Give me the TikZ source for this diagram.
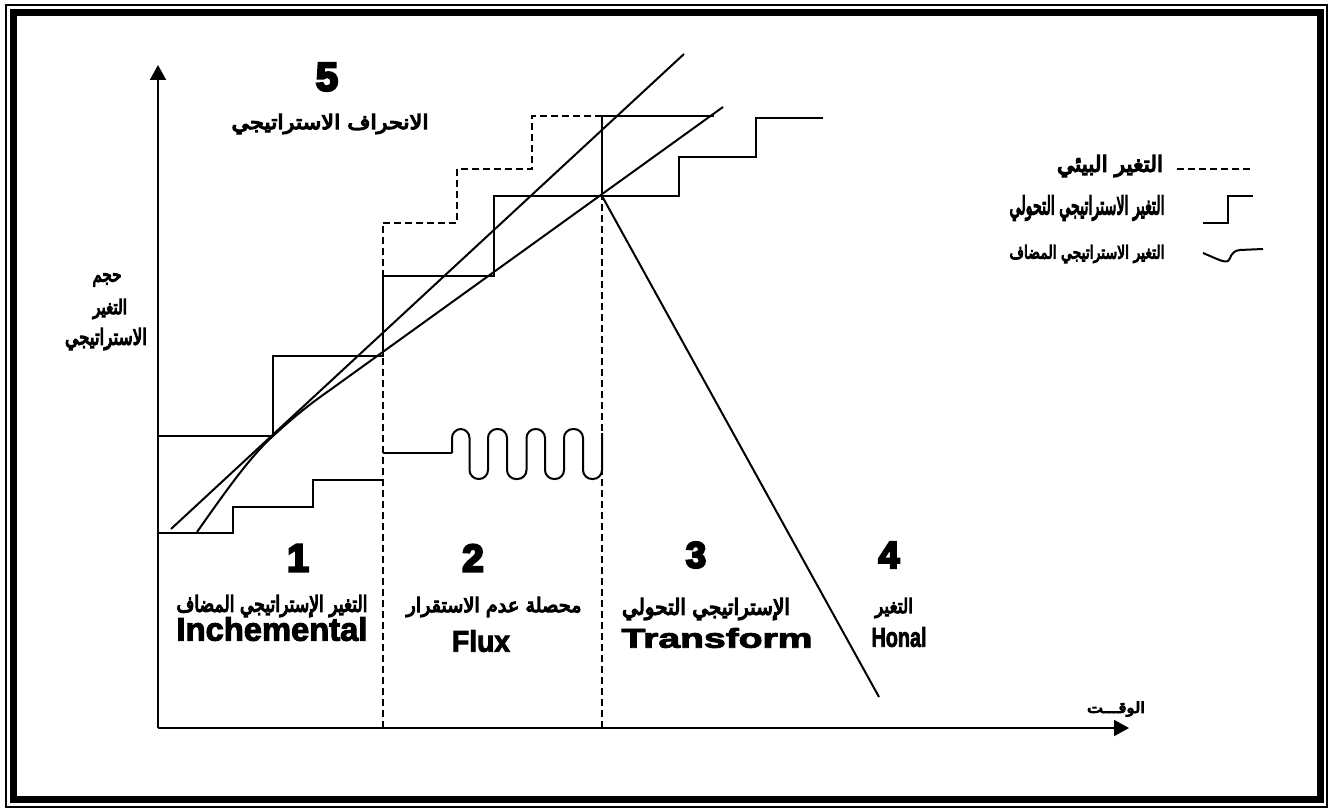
\documentclass[tikz,border=0pt]{standalone}
\usepackage{fontspec}
\usepackage{graphicx}
\usetikzlibrary{arrows.meta}
\TeXXeTstate=1
\newfontfamily\arabicfont[Script=Arabic,FakeBold=6]{DejaVu Sans}
\newfontfamily\latfont[FakeBold=3]{Liberation Sans Bold}
\newfontfamily\digfont[FakeBold=6]{Liberation Sans Bold}
\newdimen\pxu \pxu=0.5pt
\newcommand\arlbl[3]{\resizebox*{#1\pxu}{#2\pxu}{\arabicfont #3}}
\newcommand\latlbl[3]{\resizebox*{#1\pxu}{#2\pxu}{\latfont #3}}
\newcommand\diglbl[2]{\resizebox*{!}{#1\pxu}{\digfont #2}}
\tikzset{
  ln/.style={line width=1pt},
  dsh/.style={line width=1pt, dash pattern=on 3.5pt off 2pt},
  axis/.style={line width=1pt, -{Triangle[length=7.5pt,width=8pt]}},
  lbl/.style={inner sep=0pt, outer sep=0pt, anchor=center}
}
\begin{document}
\begin{tikzpicture}[x=0.5pt, y=-0.5pt]
\useasboundingbox (0,0) rectangle (1337,812);
% frame
\draw[line width=1pt] (6,5) rectangle (1327,807);
\draw[line width=3.5pt] (13.5,12.5) rectangle (1320.5,799);
% axes
\coordinate (O) at (158,728);
\coordinate (Ytip) at (158,65);
\coordinate (Xtip) at (1129,728);
\draw[axis] (O) -- (Ytip);
\draw[axis] (O) -- (Xtip);
% dashed verticals
\coordinate (d1t) at (383,223);
\coordinate (d1b) at (383,728);
\coordinate (J) at (602,196);
\coordinate (d2b) at (602,728);
\draw[dsh] (d1b) -- (d1t);
\draw[dsh] (d2b) -- (J);
% environmental change (dashed steps)
\draw[dsh] (d1t) -- (457,223) -- (457,169) -- (532,169) -- (532,116) -- (602,116);
% transformational steps
\draw[ln] (158,436) -- (273,436) -- (273,356) -- (383,356) -- (383,276) -- (494,276) -- (494,196) -- (679,196) -- (679,157) -- (756,157) -- (756,118) -- (823,118);
\draw[ln] (J) -- (602,116) -- (714,116);
% incremental steps
\draw[ln] (158,533) -- (233,533) -- (233,507) -- (313,507) -- (313,480) -- (383,480);
% flux
\draw[ln] (383,453) -- (452,453);
\draw[ln, rounded corners=4.5pt] (452,453) -- (452,429) -- (469.5,429) -- (469.5,479) -- (488,479) -- (488,429) -- (507,429) -- (507,479) -- (526.5,479) -- (526.5,429) -- (545,429) -- (545,479) -- (564,479) -- (564,429) -- (583,429) -- (583,479) -- (602,479) -- (602,433);
% straight line A
\draw[ln] (171,529) -- (684,54);
% added-change curve that becomes line B
\draw[ln] (197,532) .. controls (228,488) and (250,457) .. (273,436) .. controls (296,415) and (310,404) .. (330,390) -- (723,107);
% line to region 4
\draw[ln] (J) -- (879,697);
% legend
\draw[dsh] (1177,169) -- (1253,169);
\draw[ln] (1203,223) -- (1228,223) -- (1228,196) -- (1253,196);
\draw[ln] (1203,253) .. controls (1215,258) and (1224,263) .. (1228,261) .. controls (1231,259) and (1230,251) .. (1240,250) -- (1263,249);
% texts
\node[lbl] (t5) at (327,77) {\diglbl{28}{5}};
\node[lbl] (t5a) at (330,124) {\arlbl{197}{20}{\beginR الانحراف الاستراتيجي\endR}};
\node[lbl] (ya) at (107,280) {\arlbl{29}{13}{\beginR حجم\endR}};
\node[lbl] (yb) at (110,309) {\arlbl{34}{20}{\beginR التغير\endR}};
\node[lbl] (yc) at (106,339) {\arlbl{82}{22}{\beginR الاستراتيجي\endR}};
\node[lbl] (lg1) at (1110,166) {\arlbl{106}{22}{\beginR التغير البيئي\endR}};
\node[lbl] (lg2) at (1087,208) {\arlbl{155}{25}{\beginR التغير الاستراتيجي التحولي\endR}};
\node[lbl] (lg3) at (1087,254) {\arlbl{155}{18}{\beginR التغير الاستراتيجي المضاف\endR}};
\node[lbl] (n1) at (298,558) {\diglbl{27}{1}};
\node[lbl] (a1) at (272,606) {\arlbl{191}{22}{\beginR التغير الإستراتيجي المضاف\endR}};
\node[lbl] (e1) at (272,629) {\latlbl{191}{24}{Inchemental}};
\node[lbl] (n2) at (473,558) {\diglbl{27}{2}};
\node[lbl] (a2) at (494,607) {\arlbl{175}{20}{\beginR محصلة عدم الاستقرار\endR}};
\node[lbl] (e2) at (481,641) {\latlbl{58}{22}{Flux}};
\node[lbl] (n3) at (696,555) {\diglbl{26}{3}};
\node[lbl] (a3) at (706,609) {\arlbl{168}{22}{\beginR الإستراتيجي التحولي\endR}};
\node[lbl] (e3) at (717,638) {\latlbl{191}{20}{Transform}};
\node[lbl] (n4) at (889,555) {\diglbl{26}{4}};
\node[lbl] (a4) at (894,608) {\arlbl{38}{20}{\beginR التغير\endR}};
\node[lbl] (e4) at (899,637) {\latlbl{55}{20}{Honal}};
\node[lbl] (xl) at (1116,709) {\arlbl{58}{15}{\beginR الوقـــت\endR}};
\end{tikzpicture}
\end{document}
